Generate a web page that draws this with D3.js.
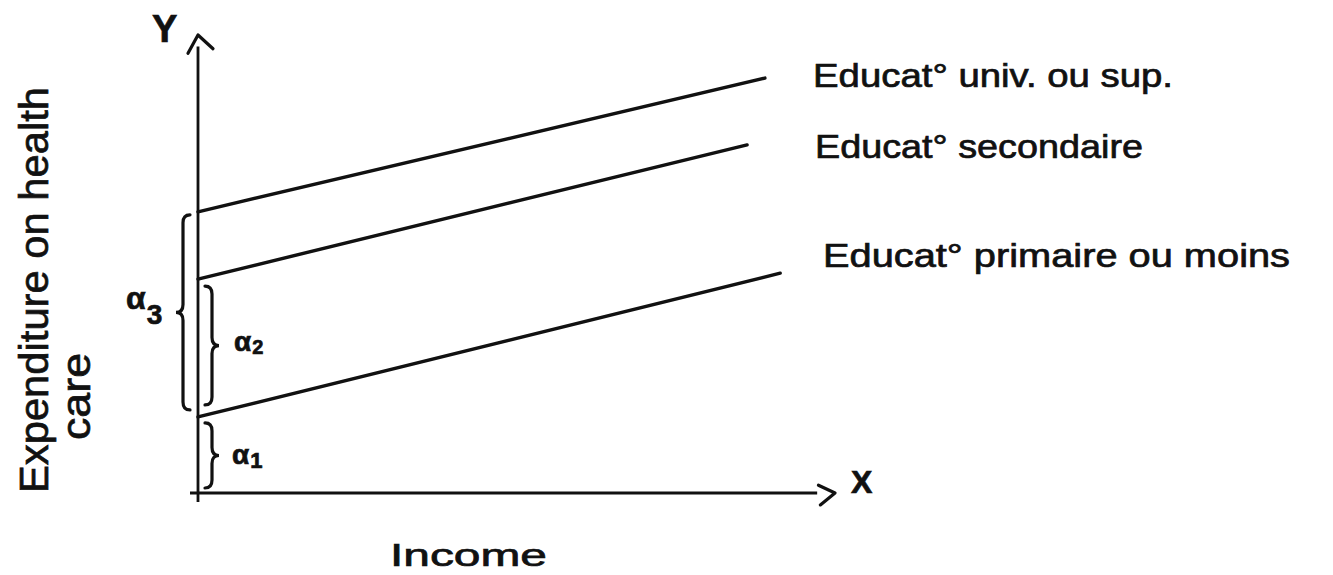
<!DOCTYPE html>
<html>
<head>
<meta charset="utf-8">
<script src="https://cdn.jsdelivr.net/npm/d3@7"></script>
<style>
  html, body { margin: 0; padding: 0; background: #fff; }
  svg { display: block; }
  text { font-family: "Liberation Sans", "DejaVu Sans", sans-serif; fill: #111; stroke: #111; stroke-width: 0.7px; }
</style>
</head>
<body>
<svg id="chart" width="1333" height="575"></svg>
<script>
// Education groups and their expenditure lines (income on x, spending on y)
const categories = ["Educat° univ. ou sup.", "Educat° secondaire", "Educat° primaire ou moins"];
const incomeStart = [0, 0, 0];
const incomeEnd = [8.9, 8.62, 9.14];
const spendStart = [6.14, 4.67, 1.66];
const spendEnd = [9.06, 7.6, 4.8];

// Axis titles
const xAxisName = "X";
const yAxisName = "Y";
const xTitle = "Income";
const yTitleLines = ["Expenditure on health", "care"];

const svg = d3.select("#chart");
const ink = "#111";

const x = d3.scaleLinear().domain([0, 10]).range([198, 835]);
const y = d3.scaleLinear().domain([0, 10]).range([493, 35]);

// Axes
svg.append("line")
  .attr("x1", x(0)).attr("y1", y(0) + 9)
  .attr("x2", x(0)).attr("y2", y(9.75))
  .attr("stroke", ink).attr("stroke-width", 2.8);
svg.append("path")
  .attr("d", d3.line()([[x(0) - 10, y(9.6)], [x(0), y(10)], [x(0) + 15, y(9.7)]]))
  .attr("fill", "none").attr("stroke", ink).attr("stroke-width", 3.2)
  .attr("stroke-linecap", "round").attr("stroke-linejoin", "round");

svg.append("line")
  .attr("x1", x(0) - 8).attr("y1", y(0))
  .attr("x2", x(9.72)).attr("y2", y(0))
  .attr("stroke", ink).attr("stroke-width", 2.8);
svg.append("path")
  .attr("d", d3.line()([[x(9.74), y(0.17)], [x(10), y(0)], [x(9.77), y(-0.26)]]))
  .attr("fill", "none").attr("stroke", ink).attr("stroke-width", 3.2)
  .attr("stroke-linecap", "round").attr("stroke-linejoin", "round");

svg.append("text").attr("x", 152).attr("y", 42)
  .attr("font-size", 38).attr("font-weight", "bold").text(yAxisName);
svg.append("text").attr("x", 851).attr("y", 493)
  .attr("font-size", 32).attr("font-weight", "bold").text(xAxisName);

// Group lines
const groups = categories.map((c, i) => ({
  name: c,
  pts: [[incomeStart[i], spendStart[i]], [incomeEnd[i], spendEnd[i]]]
}));
const lineGen = d3.line().x(d => x(d[0])).y(d => y(d[1]));

svg.selectAll("path.group").data(groups).join("path")
  .attr("class", "group")
  .attr("d", d => lineGen(d.pts))
  .attr("fill", "none").attr("stroke", ink).attr("stroke-width", 3.4)
  .attr("stroke-linecap", "round");

// Group labels
const labelX = [813, 815, 823];
const labelY = [87, 158, 267];
const labelLen = [360, 328, 467];
svg.selectAll("text.group").data(groups).join("text")
  .attr("class", "group")
  .attr("x", (d, i) => labelX[i]).attr("y", (d, i) => labelY[i])
  .attr("font-size", 33)
  .attr("textLength", (d, i) => labelLen[i])
  .attr("lengthAdjust", "spacingAndGlyphs")
  .text(d => d.name);

// Curly braces marking the intercept differences
function brace(xb, y1, y2, dir, w) {
  const ym = (y1 + y2) / 2, r = 8;
  const p = d3.path();
  p.moveTo(xb - dir * w, y1);
  p.quadraticCurveTo(xb, y1, xb, y1 + r);
  p.lineTo(xb, ym - r);
  p.quadraticCurveTo(xb, ym, xb + dir * w, ym);
  p.quadraticCurveTo(xb, ym, xb, ym + r);
  p.lineTo(xb, y2 - r);
  p.quadraticCurveTo(xb, y2, xb - dir * w, y2);
  return p.toString();
}

const bottomIntercept = spendStart[2];
const braces = [
  { from: 0, to: bottomIntercept, xb: 212, dir: 1, gapA: 5, gapB: 6 },
  { from: bottomIntercept, to: spendStart[1], xb: 212, dir: 1, gapA: 12, gapB: 7 },
  { from: bottomIntercept, to: spendStart[0], xb: 183, dir: -1, gapA: 7, gapB: 3 }
];
svg.selectAll("path.brace").data(braces).join("path")
  .attr("class", "brace")
  .attr("d", d => brace(d.xb, y(d.to) + d.gapB, y(d.from) - d.gapA, d.dir, 7))
  .attr("fill", "none").attr("stroke", ink).attr("stroke-width", 3.2)
  .attr("stroke-linecap", "round");

// Alpha labels
const alphaPos = [
  { x: 232, y: 464, size: 28, sub: "1", subSize: 22, dy: 4 },
  { x: 234, y: 351, size: 28, sub: "2", subSize: 20, dy: 3 },
  { x: 126, y: 309, size: 32, sub: "3", subSize: 28, dy: 15 }
];
alphaPos.forEach(a => {
  const t = svg.append("text").attr("x", a.x).attr("y", a.y).attr("font-size", a.size)
    .attr("font-weight", "bold");
  t.append("tspan").text("α");
  t.append("tspan").attr("dy", a.dy).attr("dx", 1).attr("font-size", a.subSize).text(a.sub);
});

// Axis titles
svg.append("text").attr("x", 390).attr("y", 566)
  .attr("font-size", 32).attr("textLength", 157).attr("lengthAdjust", "spacingAndGlyphs")
  .text(xTitle);

svg.append("text")
  .attr("transform", "translate(48,493) rotate(-90)")
  .attr("font-size", 40).attr("textLength", 406).attr("lengthAdjust", "spacingAndGlyphs")
  .text(yTitleLines[0]);
svg.append("text")
  .attr("transform", "translate(90,440) rotate(-90)")
  .attr("font-size", 40).attr("textLength", 87).attr("lengthAdjust", "spacingAndGlyphs")
  .text(yTitleLines[1]);
</script>
</body>
</html>
